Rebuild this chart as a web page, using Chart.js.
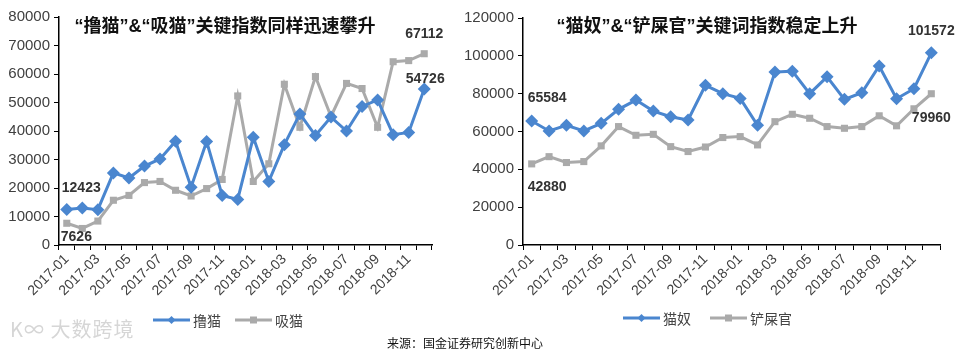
<!DOCTYPE html>
<html>
<head>
<meta charset="utf-8">
<script src="https://cdn.jsdelivr.net/npm/chart.js@4"></script>
<style>
  body { margin: 0; background: #fff; width: 957px; height: 353px; position: relative; overflow: hidden; }
  canvas { position: absolute; top: 0; }
  #left { left: 0; }
  #right { left: 440px; }
  .source { position: absolute; left: 387px; top: 334px; font: 12px "Noto Sans CJK SC", sans-serif; color: #111; }
  .mark { position: absolute; left: 10px; top: 314px; font: 20px "Noto Sans CJK SC", sans-serif; color: #d6d6d6; letter-spacing: 1px; }
</style>
</head>
<body>
<canvas id="left" width="470" height="353"></canvas>
<canvas id="right" width="517" height="353"></canvas>
<div class="mark">K∞ 大数跨境</div>
<div class="source">来源：国金证券研究创新中心</div>
<script>
// 月份
const months = ['2017-01', '2017-02', '2017-03', '2017-04', '2017-05', '2017-06', '2017-07', '2017-08', '2017-09', '2017-10', '2017-11', '2017-12',
  '2018-01', '2018-02', '2018-03', '2018-04', '2018-05', '2018-06', '2018-07', '2018-08', '2018-09', '2018-10', '2018-11', '2018-12'];

// 左图：撸猫 / 吸猫
const lumao = [12423, 13000, 12400, 25300, 23500, 27700, 30200, 36400, 20300, 36300, 17400, 16000,
  37800, 22300, 35200, 46000, 38400, 44900, 40000, 48600, 50900, 38700, 39500, 54726];
const ximao = [7626, 5800, 8400, 15700, 17400, 21900, 22300, 19200, 17200, 19800, 23000, 52300,
  22300, 28500, 56400, 41300, 59100, 45100, 56700, 54900, 41300, 64300, 64700, 67112];

// 右图：猫奴 / 铲屎官
const maonu = [65584, 60300, 63300, 60300, 64300, 71700, 76600, 70800, 67800, 66100, 84400, 80000,
  77500, 63300, 91400, 91900, 80000, 88900, 77000, 80500, 94600, 77300, 82600, 101572];
const chanshiguan = [42880, 46700, 43600, 44100, 52400, 62600, 58000, 58500, 52000, 49400, 51800, 56800,
  57300, 52900, 65200, 69100, 67000, 62600, 61700, 62600, 68300, 63000, 72000, 79960];

const BLUE = '#4a86cf';
const GRAY = '#aaaaaa';
const NUM_FONT = '"Liberation Sans", Arial, sans-serif';
const CJK_FONT = '"Noto Sans CJK SC", sans-serif';

// plugin per dibuixar títol, etiquetes i llegenda
const extras = {
  id: 'extras',
  afterDatasetsDraw(chart, args, opts) {
    const ctx = chart.ctx;
    ctx.save();
    // títol
    ctx.font = 'bold 18px "Liberation Sans", ' + CJK_FONT;
    ctx.fillStyle = '#111';
    ctx.textAlign = 'center';
    ctx.textBaseline = 'middle';
    ctx.fillText(opts.title.text, opts.title.x, opts.title.y);

    // etiquetes de valors
    ctx.font = 'bold 14px ' + NUM_FONT;
    ctx.fillStyle = '#333';
    opts.labels.forEach((l) => {
      const pt = chart.getDatasetMeta(l.ds).data[l.i];
      const v = chart.data.datasets[l.ds].data[l.i];
      ctx.textAlign = l.align;
      ctx.fillText(String(v), pt.x + l.dx, pt.y + l.dy);
    });

    // llegenda
    ctx.font = '14px ' + CJK_FONT;
    ctx.textAlign = 'left';
    opts.legend.forEach((it, k) => {
      const ds = chart.data.datasets[k];
      const y = opts.legendY;
      ctx.strokeStyle = ds.borderColor;
      ctx.lineWidth = 3;
      ctx.beginPath();
      ctx.moveTo(it.x, y);
      ctx.lineTo(it.x + 37, y);
      ctx.stroke();
      ctx.fillStyle = ds.borderColor;
      ctx.beginPath();
      if (ds.pointStyle === 'rectRot') {
        ctx.moveTo(it.x + 18.5, y - 4);
        ctx.lineTo(it.x + 22.5, y);
        ctx.lineTo(it.x + 18.5, y + 4);
        ctx.lineTo(it.x + 14.5, y);
      } else {
        ctx.rect(it.x + 15, y - 3.5, 7, 7);
      }
      ctx.fill();
      ctx.fillStyle = '#444';
      ctx.fillText(ds.label, it.x + 40, y + 1);
    });
    ctx.restore();
  }
};

const makeChart = (id, names, seriesA, seriesB, yMax, yStep, pad, yWidth, extraOpts) => {
  const ctx = document.getElementById(id).getContext('2d');
  return new Chart(ctx, {
    type: 'line',
    data: {
      labels: months,
      datasets: [
        {
          label: names[0],
          data: seriesA,
          borderColor: BLUE,
          backgroundColor: BLUE,
          borderWidth: 3,
          pointStyle: 'rectRot',
          pointRadius: 6.5,
          pointBorderWidth: 0,
          tension: 0,
          order: 1,
        },
        {
          label: names[1],
          data: seriesB,
          borderColor: GRAY,
          backgroundColor: GRAY,
          borderWidth: 3,
          pointStyle: 'rect',
          pointRadius: 5,
          pointBorderWidth: 0,
          tension: 0,
          order: 2,
        },
      ],
    },
    options: {
      responsive: false,
      animation: false,
      events: [],
      layout: { padding: pad },
      plugins: {
        legend: { display: false },
        tooltip: { enabled: false },
        extras: extraOpts,
      },
      scales: {
        x: {
          offset: true,
          grid: { offset: true, drawOnChartArea: false, color: '#000', tickLength: 5 },
          border: { color: '#000', width: 1.5 },
          ticks: {
            autoSkip: false,
            minRotation: 45,
            maxRotation: 45,
            padding: 1,
            color: '#404040',
            font: { family: NUM_FONT, size: 14 },
            callback: (val, i) => (i % 2 === 0 ? months[i] : ''),
          },
          afterFit: (scale) => { scale.height = 60; },
        },
        y: {
          min: 0,
          max: yMax,
          grid: { drawOnChartArea: false, color: '#000', tickLength: 5 },
          border: { color: '#000', width: 1.5 },
          ticks: {
            stepSize: yStep,
            padding: 4,
            color: '#404040',
            font: { family: NUM_FONT, size: 15 },
            callback: (v) => String(v),
          },
          afterFit: (scale) => { scale.width = yWidth; },
        },
      },
    },
    plugins: [extras],
  });
};

makeChart('left', ['撸猫', '吸猫'], lumao, ximao, 80000, 10000,
  { left: 0, right: 38, top: 17, bottom: 48 }, 59,
  {
    title: { text: '“撸猫”&“吸猫”关键指数同样迅速攀升', x: 225, y: 27 },
    labels: [
      { ds: 0, i: 0, dx: -5, dy: -21, align: 'left' },
      { ds: 1, i: 0, dx: -6, dy: 14, align: 'left' },
      { ds: 1, i: 23, dx: 0, dy: -20, align: 'center' },
      { ds: 0, i: 23, dx: 1, dy: -10, align: 'center' },
    ],
    legend: [{ x: 153 }, { x: 235 }],
    legendY: 320,
  });

makeChart('right', ['猫奴', '铲屎官'], maonu, chanshiguan, 120000, 20000,
  { left: 0, right: 17, top: 18, bottom: 48 }, 83,
  {
    title: { text: '“猫奴”&“铲屎官”关键词指数稳定上升', x: 267, y: 27 },
    labels: [
      { ds: 0, i: 0, dx: -4, dy: -23, align: 'left' },
      { ds: 1, i: 0, dx: -4, dy: 23, align: 'left' },
      { ds: 0, i: 23, dx: 0, dy: -22, align: 'center' },
      { ds: 1, i: 23, dx: 0, dy: 24, align: 'center' },
    ],
    legend: [{ x: 183 }, { x: 270 }],
    legendY: 318,
  });
</script>
</body>
</html>
